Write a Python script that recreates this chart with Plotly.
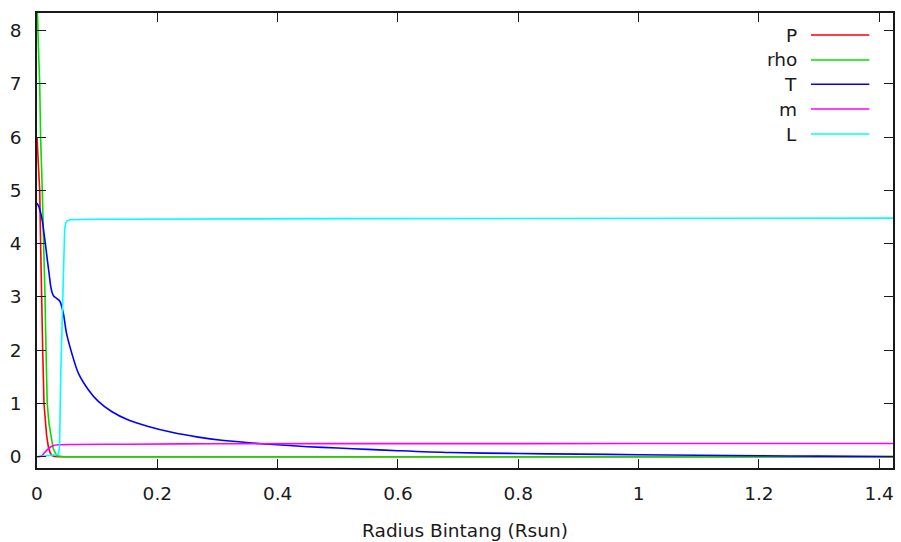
import plotly.graph_objects as go

# ---- data ----
p_r = [0, 0.001, 0.0025, 0.0045, 0.006, 0.0083, 0.0095, 0.0116, 0.0138, 0.016, 0.019, 0.022, 0.025, 0.029, 0.035, 0.05, 1.423]
p_v = [6.0, 5.75, 5.4, 5.0, 4.0, 3.0, 2.0, 1.0, 0.62, 0.4, 0.18, 0.07, 0.025, 0.008, 0.002, 0.0, 0.0]

rho_r = [0, 0.0005, 0.0025, 0.0045, 0.006, 0.0088, 0.0116, 0.0133, 0.015, 0.017, 0.02, 0.0228, 0.027, 0.033, 0.045, 1.423]
rho_v = [8.6, 8.33, 7.65, 7.0, 6.0, 5.0, 4.0, 3.0, 2.0, 1.0, 0.62, 0.4, 0.15, 0.02, 0.0, 0.0]

t_r = [0, 0.003, 0.006, 0.009, 0.0116, 0.0145, 0.0171, 0.02, 0.0228, 0.0255, 0.0283, 0.032, 0.038, 0.0437, 0.049,
       0.0577, 0.0687, 0.0853, 0.102, 0.124, 0.152, 0.185, 0.224, 0.268, 0.307, 0.357, 0.4, 0.45, 0.5, 0.55, 0.6,
       0.686, 0.8, 0.9, 1.0, 1.1, 1.2, 1.3, 1.423]
t_v = [4.76, 4.7, 4.58, 4.42, 4.2, 3.95, 3.7, 3.45, 3.2, 3.07, 3.01, 2.98, 2.92, 2.70, 2.32,
       1.95, 1.57, 1.26, 1.04, 0.85, 0.69, 0.57, 0.46, 0.37, 0.31, 0.26, 0.225, 0.19, 0.165, 0.14, 0.115,
       0.08, 0.062, 0.05, 0.04, 0.03, 0.02, 0.012, 0.005]

m_r = [0, 0.004, 0.008, 0.012, 0.017, 0.022, 0.027, 0.035, 0.06, 0.15, 0.3, 0.6, 1.0, 1.423]
m_v = [0.0, 0.003, 0.02, 0.07, 0.13, 0.18, 0.21, 0.225, 0.232, 0.237, 0.245, 0.247, 0.249, 0.25]

l_r = [0, 0.01, 0.02, 0.03, 0.036, 0.0375, 0.0394, 0.042, 0.0445, 0.046, 0.048, 0.05, 0.055, 0.1, 0.5, 1.0, 1.423]
l_v = [0.0, 0.01, 0.03, 0.04, 0.05, 0.2, 1.5, 2.8, 3.95, 4.28, 4.39, 4.43, 4.45, 4.46, 4.47, 4.475, 4.48]

series_names = ["P", "rho", "T", "m", "L"]
series_colors = ["#ff0000", "#00e000", "#0000ff", "#ff00ff", "#00ffff"]
series_x = [p_r, rho_r, t_r, m_r, l_r]
series_y = [p_v, rho_v, t_v, m_v, l_v]
series_shape = ["linear", "linear", "spline", "spline", "linear"]

x_ticks = [0, 0.2, 0.4, 0.6, 0.8, 1.0, 1.2, 1.4]
x_ticktext = ["0", "0.2", "0.4", "0.6", "0.8", "1", "1.2", "1.4"]
y_ticks = [0, 1, 2, 3, 4, 5, 6, 7, 8]

FONT = "DejaVu Sans"
INK = "#1a1a1a"

fig = go.Figure()
for name, col, xs, ys, shp in zip(series_names, series_colors, series_x, series_y, series_shape):
    line = dict(color=col, width=1.6, shape=shp)
    if shp == "spline":
        line["smoothing"] = 0.8
    fig.add_trace(go.Scatter(x=xs, y=ys, mode="lines", name=name, line=line, showlegend=False))

# gnuplot-style key: text right-aligned, then line sample
L0, R0, T0, B0 = 37, 893, 13, 468
W, H = R0 - L0, B0 - T0
key_y = [35, 60, 84.3, 109, 134]
for name, col, py in zip(series_names, series_colors, key_y):
    yp = (B0 - py) / H
    fig.add_annotation(xref="paper", yref="paper", x=(799 - L0) / W, y=yp,
                       text=name, showarrow=False, xanchor="right", yanchor="middle",
                       font=dict(family=FONT, size=18.5, color=INK))
    fig.add_shape(type="line", xref="paper", yref="paper",
                  x0=(811 - L0) / W, x1=(869.3 - L0) / W, y0=yp, y1=yp,
                  line=dict(color=col, width=1.6))

axis_common = dict(showgrid=False, zeroline=False, showline=True, linecolor=INK, linewidth=1.6,
                   ticks="inside", ticklen=9, tickwidth=1.4, tickcolor=INK, mirror="allticks",
                   automargin=False, tickfont=dict(family=FONT, size=18.5, color=INK))

fig.update_layout(
    width=901, height=542,
    margin=dict(l=L0, r=901 - R0, t=T0, b=542 - B0),
    paper_bgcolor="white", plot_bgcolor="white",
    xaxis=dict(range=[0, 1.423], tickvals=x_ticks, ticktext=x_ticktext,
               title=dict(text="Radius Bintang (Rsun)", font=dict(family=FONT, size=18.5, color=INK), standoff=21),
               ticklabelstandoff=8, **axis_common),
    yaxis=dict(range=[-0.21, 8.33], tickvals=y_ticks, ticklabelstandoff=10, **axis_common),
)

fig.write_html("out.html")
